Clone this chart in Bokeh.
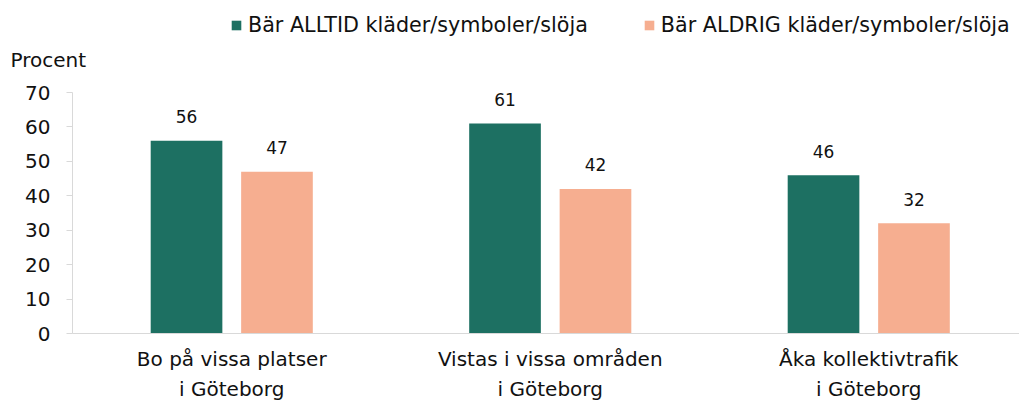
import numpy as np
from bokeh.plotting import figure
from bokeh.models import Range1d, FixedTicker, Legend, LegendItem, ColumnDataSource, Label
from bokeh.core.properties import value
from bokeh.embed import file_html
from bokeh.resources import INLINE

categories = ["Bo på vissa platser\ni Göteborg",
              "Vistas i vissa områden\ni Göteborg",
              "Åka kollektivtrafik\ni Göteborg"]
series_names = ["Bär ALLTID kläder/symboler/slöja", "Bär ALDRIG kläder/symboler/slöja"]
alltid = [56, 61, 46]
aldrig = [47, 42, 32]
y_ticks = [0, 10, 20, 30, 40, 50, 60, 70]
y_axis_title = "Procent"

colors = ["#1D7062", "#F6AE90"]
FONT = "DejaVu Sans"
TEXT = "#111111"
AXIS = "#D9D9D9"

centers = np.arange(len(categories)) + 0.5
offset = 0.142
bar_w = 0.225

# The frame covers the whole canvas; both axes are pinned at 0.
# value axis 72px from the left, baseline 333px from the top, 70 at 92px.
W, H = 1019, 401
cat_px = 318.5
x_start = -72 / cat_px
x_end = (W - 72) / cat_px
unit_px = 241 / 70
y_start = -(H - 333) / unit_px
y_end = 333 / unit_px

p = figure(width=W, height=H,
           x_range=Range1d(x_start, x_end), y_range=Range1d(y_start, y_end),
           output_backend="svg", toolbar_location=None,
           min_border_left=0, min_border_right=0,
           min_border_top=0, min_border_bottom=0)
p.outline_line_color = None
p.background_fill_color = "white"
p.border_fill_color = "white"
p.xgrid.visible = False
p.ygrid.visible = False

src1 = ColumnDataSource(dict(x=centers - offset, top=alltid, lab=[str(v) for v in alltid]))
src2 = ColumnDataSource(dict(x=centers + offset, top=aldrig, lab=[str(v) for v in aldrig]))

r1 = p.vbar(x="x", top="top", width=bar_w, bottom=0, source=src1,
            fill_color=colors[0], line_color=None)
r2 = p.vbar(x="x", top="top", width=bar_w, bottom=0, source=src2,
            fill_color=colors[1], line_color=None)

for s in (src1, src2):
    p.text(x="x", y="top", text="lab", source=s, text_align="center",
           text_baseline="alphabetic", y_offset=-24, text_font_size="17px",
           text_font=value(FONT), text_color=TEXT)

# y axis (pinned at x=0)
ya = p.yaxis[0]
ya.fixed_location = 0
ya.ticker = FixedTicker(ticks=y_ticks)
ya.bounds = (0, 70)
ya.axis_line_color = AXIS
ya.major_tick_line_color = AXIS
ya.major_tick_out = 6
ya.major_tick_in = 0
ya.minor_tick_line_color = None
ya.major_label_standoff = 16
ya.major_label_text_font = FONT
ya.major_label_text_font_size = "20px"
ya.major_label_text_color = TEXT

# x axis (pinned at y=0)
xa = p.xaxis[0]
xa.fixed_location = 0
xa.ticker = FixedTicker(ticks=list(centers))
xa.bounds = (0, x_end)
xa.major_label_overrides = {float(c): cat for c, cat in zip(centers, categories)}
xa.axis_line_color = AXIS
xa.major_tick_line_color = None
xa.minor_tick_line_color = None
xa.major_tick_out = 0
xa.major_tick_in = 0
xa.major_label_standoff = 13
xa.major_label_text_font = FONT
xa.major_label_text_font_size = "20px"
xa.major_label_text_line_height = 1.25
xa.major_label_text_color = TEXT

legend = Legend(items=[LegendItem(label=series_names[0], renderers=[r1]),
                       LegendItem(label=series_names[1], renderers=[r2])],
                orientation="horizontal", location=(230, 364))
legend.label_text_font = FONT
legend.label_text_font_size = "20.7px"
legend.label_text_color = TEXT
legend.glyph_width = 12
legend.glyph_height = 12
legend.label_standoff = 6
legend.spacing = 55
legend.padding = 0
legend.margin = 0
legend.border_line_color = None
legend.background_fill_alpha = 0
p.add_layout(legend)

p.add_layout(Label(x=10, y=342, x_units="screen", y_units="screen",
                   text=y_axis_title, text_font=FONT, text_font_size="20px",
                   text_color=TEXT, text_baseline="alphabetic"))

open("out.html", "w").write(file_html(p, INLINE))
